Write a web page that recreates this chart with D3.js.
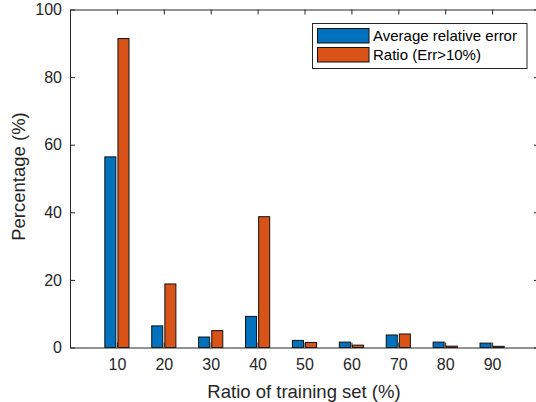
<!DOCTYPE html>
<html>
<head>
<meta charset="utf-8">
<script src="https://cdn.jsdelivr.net/npm/d3@7"></script>
<style>
  html, body { margin: 0; padding: 0; background: #fff; }
  svg { display: block; font-family: "Liberation Sans", Arial, Helvetica, sans-serif; }
</style>
</head>
<body>
<svg id="chart" width="536" height="402"></svg>
<script>
const categories = [10, 20, 30, 40, 50, 60, 70, 80, 90];
const avgRelError = [56.4, 6.4, 3.1, 9.2, 2.1, 1.6, 3.7, 1.6, 1.3];
const ratioErrOver10 = [91.4, 18.8, 5.0, 38.7, 1.5, 0.7, 4.0, 0.4, 0.35];
const seriesNames = ["Average relative error", "Ratio (Err>10%)"];
const seriesColors = ["#0072BD", "#D95319"];
const xTicks = [10, 20, 30, 40, 50, 60, 70, 80, 90];
const yTicks = [0, 20, 40, 60, 80, 100];

(function () {
const svg = d3.select("#chart");
const pLeft = 70, pRight = 539, pTop = 9.5, pBottom = 347.5;
const axisColor = "#262626";

const x = d3.scaleLinear().domain([0, 100]).range([pLeft, pRight]);
const y = d3.scaleLinear().domain([0, 100]).range([pBottom, pTop]);

const barW = 2.35;   // in x data units
const offs = [-1.4, 1.4];
const series = [avgRelError, ratioErrOver10];

series.forEach((vals, si) => {
  svg.append("g").selectAll("rect").data(categories).join("rect")
    .attr("x", (d) => x(d + offs[si] - barW / 2))
    .attr("width", x(barW) - x(0))
    .attr("y", (d, i) => y(vals[i]))
    .attr("height", (d, i) => y(0) - y(vals[i]))
    .attr("fill", seriesColors[si])
    .attr("stroke", "#111")
    .attr("stroke-width", 1);
});

// axes box
const tickLen = 5;
const gBottom = svg.append("g").attr("transform", `translate(0,${pBottom})`)
  .call(d3.axisBottom(x).tickValues(xTicks).tickSizeInner(-tickLen).tickSizeOuter(0).tickPadding(11));
const gTop = svg.append("g").attr("transform", `translate(0,${pTop})`)
  .call(d3.axisTop(x).tickValues(xTicks).tickSizeInner(-tickLen).tickSizeOuter(0).tickFormat(""));
const gLeft = svg.append("g").attr("transform", `translate(${pLeft},0)`)
  .call(d3.axisLeft(y).tickValues(yTicks).tickSizeInner(-tickLen).tickSizeOuter(0).tickPadding(8));
const gRight = svg.append("g").attr("transform", `translate(${pRight},0)`)
  .call(d3.axisRight(y).tickValues(yTicks).tickSizeInner(-tickLen).tickSizeOuter(0).tickFormat(""));

[gBottom, gTop, gLeft, gRight].forEach(g => {
  g.selectAll("path.domain").attr("stroke", axisColor).attr("stroke-width", 1);
  g.selectAll(".tick line").attr("stroke", axisColor).attr("stroke-width", 1);
  g.selectAll(".tick text").attr("fill", axisColor)
    .style("font-size", "16px").style("font-family", "'Liberation Sans', Arial, sans-serif");
});
gBottom.selectAll(".tick text").attr("dy", "0.71em");

// axis labels
svg.append("text")
  .attr("x", (pLeft + pRight) / 2 - 0.5).attr("y", 398)
  .attr("text-anchor", "middle").attr("fill", axisColor)
  .style("font-size", "18.5px")
  .text("Ratio of training set (%)");

svg.append("text")
  .attr("transform", `translate(25,${(pTop + pBottom) / 2 - 2}) rotate(-90)`)
  .attr("text-anchor", "middle").attr("fill", axisColor)
  .style("font-size", "18.5px")
  .text("Percentage (%)");

// legend
const lg = svg.append("g");
lg.append("rect").attr("x", 312.5).attr("y", 23.5).attr("width", 214.5).attr("height", 45)
  .attr("fill", "#fff").attr("stroke", axisColor).attr("stroke-width", 1);
seriesNames.forEach((name, i) => {
  const yy = 28.5 + i * 19;
  lg.append("rect").attr("x", 317.5).attr("y", yy).attr("width", 51.5).attr("height", 14.5)
    .attr("fill", seriesColors[i]).attr("stroke", "#111").attr("stroke-width", 1);
  lg.append("text").attr("x", 373).attr("y", yy + 7.5).attr("dy", "0.35em")
    .attr("fill", "#000").style("font-size", "15px").text(name);
});
})();
</script>
</body>
</html>
